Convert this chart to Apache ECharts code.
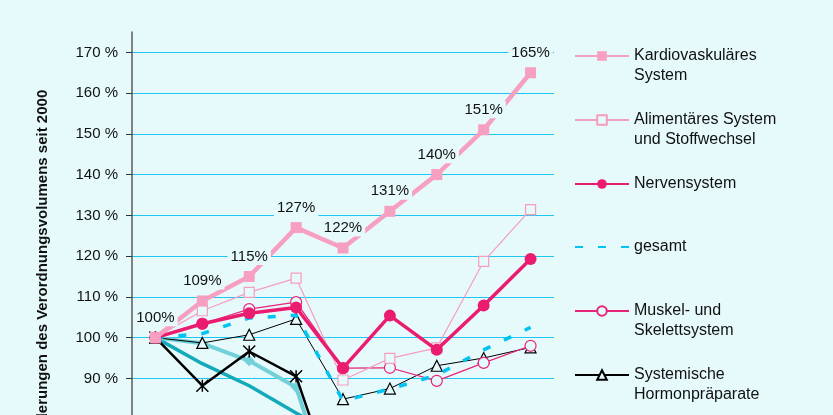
<!DOCTYPE html>
<html>
<head>
<meta charset="utf-8">
<script src="https://cdn.jsdelivr.net/npm/echarts@6/dist/echarts.min.js"></script>
<style>
html,body{margin:0;padding:0;background:#e6fafc;}
#chart{width:833px;height:415px;}
</style>
</head>
<body>
<div id="chart"></div>
<script>
// Categories (x axis lies below the visible picture)
const years = ['2000','2001','2002','2003','2004','2005','2006','2007','2008'];

// Series values (% of 2000 volume)
const kardio   = [100, 109, 115, 127, 122, 131, 140, 151, 165];
const alim     = [100, 106.6, 111.1, 114.6, 89.6, 94.9, 97.5, 118.7, 131.4];
const nerven   = [100, 103.4, 106.0, 107.4, 92.5, 105.4, 97.0, 107.9, 119.3];
const gesamt   = [100, 101.0, 104.8, 105.5, 84.5, 87.4, 90.8, 97.0, 102.5];
const muskel   = [100, 103.4, 107.0, 108.7, 92.5, 92.6, 89.4, 93.8, 98.0];
const hormon   = [100, 98.7, 100.7, 104.6, 84.9, 87.5, 93.1, 95.0, 97.6];
const sternSer = [100, 88.2, 96.6, 90.5, 57, 60, 62, 64, 66];
const hellTeal = [100, 98.6, 94.3, 87.8, 53, 54, 56, 58, 60];
const dunkTeal = [100, 93.6, 88.2, 81.5, 75, 72, 70, 70, 70];

// Tick labels (visible part of the axis)
const yTicks = [90, 100, 110, 120, 130, 140, 150, 160, 170];

const names = {
  kardio: 'Kardiovaskuläres\nSystem',
  alim: 'Alimentäres System\nund Stoffwechsel',
  nerven: 'Nervensystem',
  gesamt: 'gesamt',
  muskel: 'Muskel- und\nSkelettsystem',
  hormon: 'Systemische\nHormonpräparate'
};

const BG = '#e6fafc';
const FONT = "'Liberation Sans', Arial, sans-serif";

const chart = echarts.init(document.getElementById('chart'));

function legendFor(name, symY, twoLine, extra) {
  const lg = {
    data: [name],
    left: 574,
    top: twoLine ? symY - 30 : symY - 10,
    padding: 0,
    itemWidth: 54,
    itemHeight: 12,
    selectedMode: false,
    textStyle: { fontFamily: FONT, fontSize: 16, color: '#111', lineHeight: 20 }
  };
  if (twoLine) {
    lg.formatter = function (n) { return ' \n' + n; };
  }
  return Object.assign(lg, extra || {});
}

const option = {
  backgroundColor: BG,
  animation: false,
  grid: { left: 132, top: 32, width: 422, height: 489, containLabel: false, outerBoundsMode: 'none' },
  xAxis: {
    type: 'category',
    data: years,
    boundaryGap: true,
    show: false
  },
  yAxis: {
    type: 'value',
    min: 55,
    max: 175,
    interval: 5,
    name: 'Veränderungen des Verordnungsvolumens seit 2000',
    nameLocation: 'middle',
    nameGap: 82,
    nameTextStyle: { fontFamily: FONT, fontSize: 15, fontWeight: 'bold', color: '#111' },
    axisLine: { show: true, lineStyle: { color: '#5a5a5a', width: 1.5 } },
    axisTick: { show: true, length: 6, lineStyle: { color: '#333' }, customValues: yTicks },
    axisLabel: {
      customValues: yTicks,
      margin: 14,
      fontFamily: FONT, fontSize: 15, color: '#111',
      formatter: function (v) { return (v % 10 === 0) ? v + ' %' : ''; }
    },
    splitLine: { show: true, lineStyle: { color: '#1ec6f0', width: 1.2 } }
  },
  legend: [
    legendFor(names.kardio, 56, true),
    legendFor(names.alim, 120, true),
    legendFor(names.nerven, 184, false),
    legendFor(names.gesamt, 247, false, { itemStyle: { opacity: 0 } }),
    legendFor(names.muskel, 311, true),
    legendFor(names.hormon, 375, true)
  ],
  series: [
    {
      name: 'Gruppe A', type: 'line', data: dunkTeal, symbol: 'none',
      lineStyle: { color: '#12a9b8', width: 3.5 }, itemStyle: { color: '#12a9b8' }, z: 2
    },
    {
      name: 'Gruppe B', type: 'line', data: hellTeal, symbol: 'diamond', symbolSize: 11,
      lineStyle: { color: '#72d0d8', width: 4 }, itemStyle: { color: '#72d0d8' }, z: 3
    },
    {
      name: 'Gruppe C', type: 'line', data: sternSer,
      symbol: 'path://M0,0L10,10M0,10L10,0M5,0L5,10', symbolSize: 12,
      lineStyle: { color: '#000', width: 2.5 },
      itemStyle: { color: '#000', borderColor: '#000', borderWidth: 1.5 }, z: 4
    },
    {
      name: names.hormon, type: 'line', data: hormon, symbol: 'triangle', symbolSize: 11,
      lineStyle: { color: '#000', width: 1 },
      itemStyle: { color: BG, borderColor: '#000', borderWidth: 1.2 }, z: 5
    },
    {
      name: names.muskel, type: 'line', data: muskel, symbol: 'circle', symbolSize: 11,
      lineStyle: { color: '#e8237a', width: 1.2 },
      itemStyle: { color: BG, borderColor: '#e8237a', borderWidth: 1.2 }, z: 6
    },
    {
      name: names.gesamt, type: 'line', data: gesamt, symbol: 'none',
      lineStyle: { color: '#00c3f2', width: 3.5, type: [8, 15] },
      itemStyle: { color: '#00c3f2' }, z: 7
    },
    {
      name: names.alim, type: 'line', data: alim, symbol: 'rect', symbolSize: 10,
      lineStyle: { color: '#f59dbd', width: 1.2 },
      itemStyle: { color: BG, borderColor: '#f59dbd', borderWidth: 1.2 }, z: 8
    },
    {
      name: names.nerven, type: 'line', data: nerven, symbol: 'circle', symbolSize: 12,
      lineStyle: { color: '#eb1c6f', width: 3.5 },
      itemStyle: { color: '#eb1c6f' }, z: 9
    },
    {
      name: names.kardio, type: 'line', data: kardio, symbol: 'rect', symbolSize: 11,
      lineStyle: { color: '#f79fc0', width: 4.5 },
      itemStyle: { color: '#f79fc0' }, z: 10,
      label: {
        show: true, position: 'top', distance: 6,
        formatter: function (p) { return Math.round(p.value) + '%'; },
        fontFamily: FONT, fontSize: 15, color: '#111',
        backgroundColor: BG, padding: [1, 3]
      }
    }
  ]
};

chart.setOption(option);
</script>
</body>
</html>
